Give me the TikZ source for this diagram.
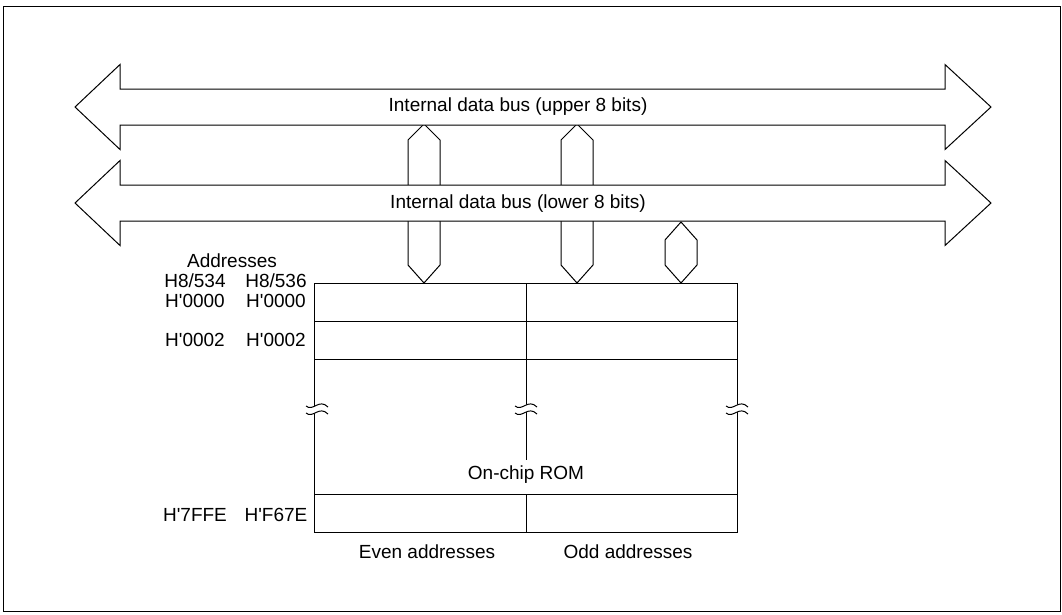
\documentclass[tikz,border=0pt]{standalone}
\usepackage{fontspec}
\setmainfont{Liberation Sans}
\tikzset{bus/.style={draw,fill=white},
  link/.style={draw},
  lbl/.style={inner sep=0pt}}
\newcommand\busarrow[1]{%
  \path[bus] (75,#1) -- (120,#1-42.5) -- (120,#1-18) -- (945,#1-18) -- (945,#1-42.5)
    -- (991,#1) -- (945,#1+42.5) -- (945,#1+18) -- (120,#1+18) -- (120,#1+42.5) -- cycle;}
\newcommand\romcut[2]{%
  \fill[white] (#1-11,#2-3.5) .. controls (#1-4,#2+2.5) and (#1+2,#2-11.5) .. (#1+11,#2-2.5)
    -- (#1+11,#2+4.5) .. controls (#1+2,#2-4.5) and (#1-4,#2+9.5) .. (#1-11,#2+3.5) -- cycle;
  \draw (#1-11,#2-3.5) .. controls (#1-4,#2+2.5) and (#1+2,#2-11.5) .. (#1+11,#2-2.5);
  \draw (#1-11,#2+3.5) .. controls (#1-4,#2+9.5) and (#1+2,#2-4.5) .. (#1+11,#2+4.5);}
\newcommand\q{\textquotesingle}
\begin{document}
\begin{tikzpicture}[x=1pt,y=-1pt,line width=1pt,font=\fontsize{19}{22}\selectfont]
\useasboundingbox (0,0) rectangle (1062,614);
\draw[line width=1.3pt] (3.5,6.5) rectangle (1060.5,611.5);
\foreach \x in {424,577}
  \path[link] (\x,124) -- (\x+16,140) -- (\x+16,265) -- (\x,283) -- (\x-16,265) -- (\x-16,140) -- cycle;
\path[link] (681,222) -- (697,240) -- (697,265) -- (681,283) -- (665,265) -- (665,240) -- cycle;
\busarrow{107}
\busarrow{203}
\node[lbl] (upbus) at (518,107) {Internal data bus (upper 8 bits)};
\node[lbl] (lowbus) at (518,204) {Internal data bus (lower 8 bits)};
\draw (314,283) rectangle (737,532);
\foreach \y in {321,359,494}
  \draw (314,\y) -- (737,\y);
\draw (526,283) -- (526,460);
\draw (526,494) -- (526,532);
\romcut{317}{409.5}
\romcut{526}{409.5}
\romcut{737}{409.5}
\node[lbl] (rom) at (526,475) {On-chip ROM};
\node[lbl] (even) at (427,552) {Even addresses};
\node[lbl] (odd) at (628,552) {Odd addresses};
\node[lbl] (addr) at (232,261) {Addresses};
\node[lbl] (cpua) at (195,281) {H8/534};
\node[lbl] (cpub) at (276,281) {H8/536};
\node[lbl] (firsta) at (195,300.5) {H\q0000};
\node[lbl] (firstb) at (276,300.5) {H\q0000};
\node[lbl] (seconda) at (195,340) {H\q0002};
\node[lbl] (secondb) at (276,340) {H\q0002};
\node[lbl] (lasta) at (195,515) {H\q7FFE};
\node[lbl] (lastb) at (276,515) {H\q F67E};
\end{tikzpicture}
\end{document}
